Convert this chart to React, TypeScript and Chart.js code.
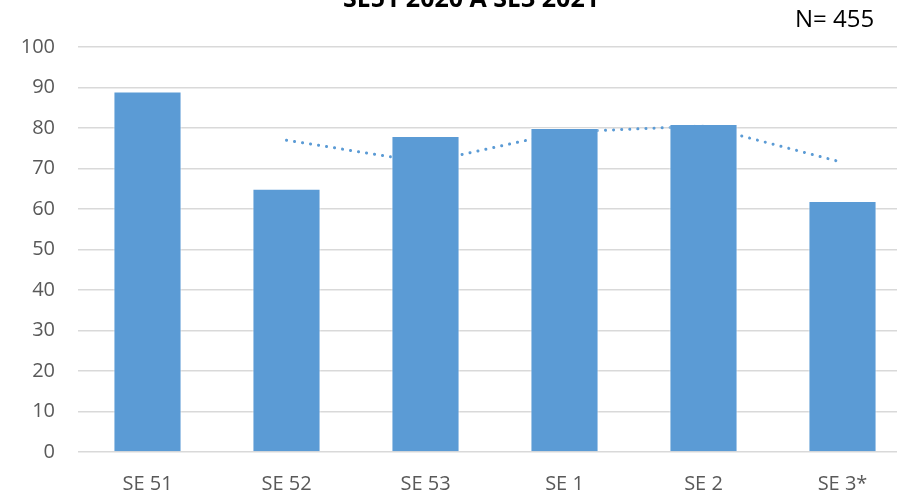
import React, { useEffect, useRef } from "react";
import { Chart, registerables } from "chart.js";

Chart.register(...registerables);

const categories = ["SE 51", "SE 52", "SE 53", "SE 1", "SE 2", "SE 3*"];
const barValues = [89, 65, 78, 80, 81, 62];
const trendValues = [null, 77, 71.5, 79, 80.5, 71.5];
const yTicks = [0, 10, 20, 30, 40, 50, 60, 70, 80, 90, 100];
const titleText = "SE51 2020 A SE3 2021";
const noteText = "N= 455";

const FONT = "'Open Sans', sans-serif";
const BLUE = "#5b9bd5";

const textPlugin = {
  id: "texts",
  afterDraw(chart: any) {
    const ctx = chart.ctx;
    ctx.save();
    ctx.fillStyle = "#000000";
    ctx.textBaseline = "alphabetic";
    ctx.textAlign = "center";
    ctx.font = `bold 25px ${FONT}`;
    ctx.fillText(titleText, 471, 7);
    ctx.textAlign = "left";
    ctx.font = `24px ${FONT}`;
    ctx.fillText(noteText, 795, 27);
    ctx.restore();
  },
};

export default function App() {
  const ref = useRef<HTMLCanvasElement | null>(null);
  useEffect(() => {
    if (!ref.current) return;
    const chart = new Chart(ref.current, {
      type: "bar",
      data: {
        labels: categories,
        datasets: [
          {
            type: "bar",
            data: barValues,
            backgroundColor: BLUE,
            borderColor: "rgba(255,255,255,0.7)",
            borderWidth: 1,
            barPercentage: 0.49,
            categoryPercentage: 1,
            order: 1,
          },
          {
            type: "line",
            data: trendValues as any,
            borderColor: BLUE,
            borderWidth: 3,
            borderDash: [0.1, 8],
            borderCapStyle: "round",
            pointRadius: 0,
            fill: false,
            tension: 0,
            order: 2,
          } as any,
        ],
      },
      options: {
        responsive: false,
        animation: false,
        devicePixelRatio: 1,
        layout: { padding: { left: 0, top: 47, right: 0, bottom: 0 } },
        plugins: {
          legend: { display: false },
          tooltip: { enabled: false },
          title: { display: false },
        },
        scales: {
          x: {
            grid: { display: false, drawTicks: false },
            border: { display: false },
            ticks: { color: "#595959", font: { family: FONT, size: 20 }, padding: 20 },
            afterFit: (axis: any) => {
              axis.height = 45;
            },
          },
          y: {
            min: 0,
            max: 100,
            afterBuildTicks: (axis: any) => {
              axis.ticks = yTicks.map((v) => ({ value: v }));
            },
            afterFit: (axis: any) => {
              axis.width = 78;
            },
            grid: { color: "#d9d9d9", lineWidth: 1.5, drawTicks: false },
            border: { display: false },
            ticks: { color: "#595959", font: { family: FONT, size: 20 }, padding: 23 },
          },
        },
      },
      plugins: [textPlugin],
    });
    return () => chart.destroy();
  }, []);
  return (
    <div style={{ position: "fixed", left: 0, top: 0, width: 897, height: 497, overflow: "hidden", background: "#fff" }}>
      <canvas ref={ref} width={912} height={497} style={{ display: "block" }} />
    </div>
  );
}
